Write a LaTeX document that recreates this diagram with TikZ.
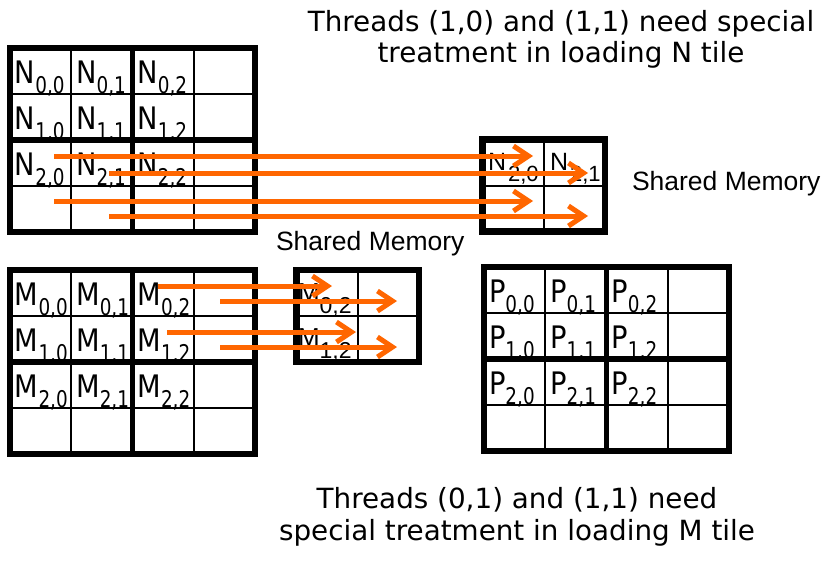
\documentclass[tikz,border=0pt]{standalone}
\usepackage{fontspec}
\usepackage{graphicx}
\setmainfont{DejaVu Sans}
\newfontfamily\arialfont{Liberation Sans}
\usetikzlibrary{arrows.meta}
\definecolor{ldorange}{RGB}{255,102,0}
% element label of a big matrix, and of a shared memory tile
\newcommand{\elm}[2]{\scalebox{0.88}[1]{\fontsize{31}{31}\selectfont #1}\raisebox{-10pt}{\scalebox{0.8}[1]{\fontsize{23}{23}\selectfont #2}}}
\newcommand{\snlbl}[2]{{\arialfont\fontsize{25}{25}\selectfont #1\kern2pt\raisebox{-11pt}{\fontsize{22}{22}\selectfont #2}}}
\newcommand{\smlbl}[2]{{\arialfont\fontsize{26}{26}\selectfont #1\raisebox{-12pt}{\fontsize{23}{23}\selectfont #2}}}

\begin{document}
\begin{tikzpicture}
[x=1pt,y=-1pt,%
  thingrid/.style={line width=2pt},%
  tileline/.style={line width=5.5pt},%
  frame/.style={line width=6.5pt},%
  every node/.style={inner sep=0pt,outer sep=0pt},%
  cell/.style={anchor=base west},%
  ldarrow/.style={draw=ldorange,line width=5pt,-{Straight Barb[length=15pt,width=20pt]}},%
  note/.style={anchor=base,font=\fontsize{27.8}{30}\selectfont},%
  shm/.style={anchor=base west,font=\arialfont\fontsize{26.5}{30}\selectfont}]
\useasboundingbox[fill=white] (0,0) rectangle (831,565);

% the three big matrices
\foreach \nm/\lx/\ty in {N/10/48, M/10/270, P/484/267} {
  \foreach \i in {1,3} {
    \draw[thingrid] ({\lx+\i*61.25},\ty) -- ({\lx+\i*61.25},{\ty+184});
    \draw[thingrid] (\lx,{\ty+\i*46}) -- ({\lx+245},{\ty+\i*46});
  }
  \draw[tileline] ({\lx+122.5},\ty) -- ({\lx+122.5},{\ty+184});
  \draw[tileline] (\lx,{\ty+92}) -- ({\lx+245},{\ty+92});
  \draw[frame] (\lx,\ty) rectangle ({\lx+245},{\ty+184});
  \foreach \r in {0,1,2}
    \foreach \c in {0,1,2}
      \node[cell] (\nm\r\c) at ({\lx+\c*61.25+5},{\ty+\r*46+35}) {\elm{\nm}{\r,\c}};
}

% shared memory tiles
\draw[thingrid] (543.75,139.5) -- (543.75,231.5);
\draw[thingrid] (482.5,185.5) -- (605,185.5);
\draw[frame] (482.5,139.5) rectangle (605,231.5);
\node[cell] (ns20) at (488,170) {\snlbl{N}{2,0}};
\node[cell] (ns21) at (550,170) {\snlbl{N}{2,1}};

\draw[thingrid] (357.75,270) -- (357.75,362);
\draw[thingrid] (296.5,316) -- (419,316);
\draw[frame] (296.5,270) rectangle (419,362);
\node[cell] (ms02) at (298,301) {\smlbl{M}{0,2}};
\node[cell] (ms12) at (298,346) {\smlbl{M}{1,2}};

\node[shm] (shmn) at (632,190) {Shared Memory};
\node[shm] (shmm) at (276,250) {Shared Memory};

\node[note] (ntop1) at (561,31) {Threads (1,0) and (1,1) need special};
\node[note] (ntop2) at (561,62) {treatment in loading N tile};
\node[note] (nbot1) at (517,508) {Threads (0,1) and (1,1) need};
\node[note] (nbot2) at (517,540) {special treatment in loading M tile};

% loading arrows
\coordinate (nsrc1) at (54,156);  \coordinate (ndst1) at (533,156);
\coordinate (nsrc2) at (109,173); \coordinate (ndst2) at (588,173);
\coordinate (nsrc3) at (54,201);  \coordinate (ndst3) at (533,201);
\coordinate (nsrc4) at (109,216); \coordinate (ndst4) at (588,216);
\coordinate (msrc1) at (158,286); \coordinate (mdst1) at (332,286);
\coordinate (msrc2) at (220,301); \coordinate (mdst2) at (397,301);
\coordinate (msrc3) at (167,332); \coordinate (mdst3) at (356,332);
\coordinate (msrc4) at (220,347); \coordinate (mdst4) at (397,347);
\foreach \k in {1,...,4} {
  \draw[ldarrow] (nsrc\k) -- (ndst\k);
  \draw[ldarrow] (msrc\k) -- (mdst\k);
}
\end{tikzpicture}
\end{document}
